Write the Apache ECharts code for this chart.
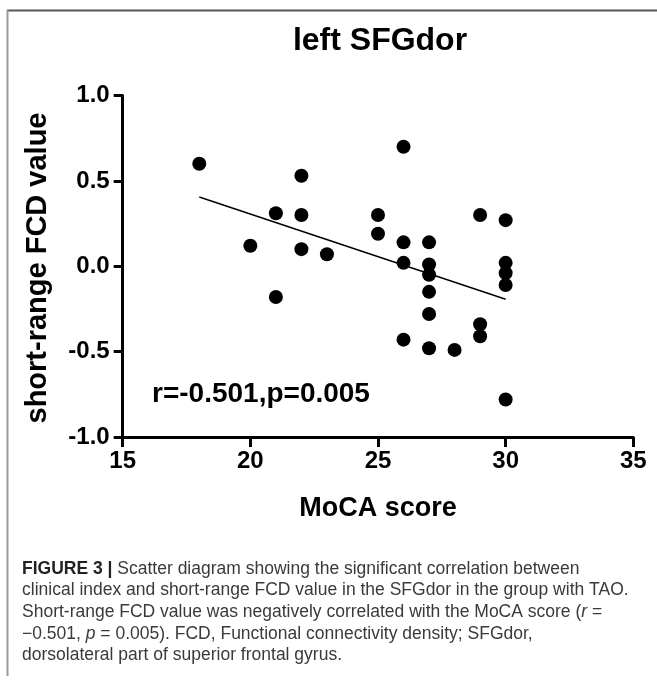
<!DOCTYPE html>
<html>
<head>
<meta charset="utf-8">
<script src="https://cdn.jsdelivr.net/npm/echarts@6/dist/echarts.min.js"></script>
<style>
html,body{margin:0;padding:0;background:#fff;}
#chart{width:657px;height:681px;}
</style>
</head>
<body>
<div id="chart"></div>
<script>
// ---- data ----
const chartTitle = 'left SFGdor';
const xAxisTitle = 'MoCA score';
const yAxisTitle = 'short-range FCD value';
const statText = 'r=-0.501,p=0.005';
const mocaScore = [18, 22, 21, 22, 20, 22, 23, 21, 26, 25, 25, 29, 30, 26, 26, 27, 27, 27, 27, 27, 30, 30, 30, 29, 29, 26, 27, 28, 30];
const fcdValue  = [0.60, 0.53, 0.31, 0.30, 0.12, 0.10, 0.07, -0.18, 0.70, 0.30, 0.19, 0.30, 0.27, 0.14, 0.02, 0.14, 0.01, -0.05, -0.15, -0.28, 0.02, -0.04, -0.11, -0.34, -0.41, -0.43, -0.48, -0.49, -0.78];
const xTicks = [15, 20, 25, 30, 35];
const yTicks = [-1.0, -0.5, 0.0, 0.5, 1.0];
const captionLines = [
  '{b|FIGURE 3 |} Scatter diagram showing the significant correlation between',
  'clinical index and short-range FCD value in the SFGdor in the group with TAO.',
  'Short-range FCD value was negatively correlated with the MoCA score ({i|r} =',
  '\u22120.501, {i|p} = 0.005). FCD, Functional connectivity density; SFGdor,',
  'dorsolateral part of superior frontal gyrus.'
];

// least-squares fit computed from the data
const n = mocaScore.length;
const mx = mocaScore.reduce((a, b) => a + b, 0) / n;
const my = fcdValue.reduce((a, b) => a + b, 0) / n;
let sxy = 0, sxx = 0;
for (let i = 0; i < n; i++) { sxy += (mocaScore[i] - mx) * (fcdValue[i] - my); sxx += (mocaScore[i] - mx) ** 2; }
const slope = sxy / sxx, intercept = my - slope * mx;
const xMin = Math.min(...mocaScore), xMax = Math.max(...mocaScore);
const fitLine = [[xMin, intercept + slope * xMin], [xMax, intercept + slope * xMax]];

const FONT = '"Liberation Sans", Arial, sans-serif';
const CAPFONT = '"Liberation Sans", Arial, sans-serif';
const CAPSIZE = 17.5;

const chart = echarts.init(document.getElementById('chart'), null, {renderer: 'canvas'});

const captionGraphics = captionLines.map((t, i) => ({
  type: 'text',
  left: 22,
  top: 560 + i * 21.6,
  style: {
    text: t,
    font: CAPSIZE + 'px ' + CAPFONT,
    fill: '#3a3a3a',
    rich: {
      b: {fontWeight: 'bold', fontSize: CAPSIZE, fontFamily: CAPFONT, fill: '#222'},
      i: {fontStyle: 'italic', fontSize: CAPSIZE, fontFamily: CAPFONT, fill: '#3a3a3a'}
    }
  }
}));

chart.setOption({
  animation: false,
  backgroundColor: '#fff',
  grid: {left: 122.7, right: 23.7, top: 95.5, bottom: 244, containLabel: false},
  xAxis: {
    type: 'value', min: xTicks[0], max: xTicks[xTicks.length - 1], interval: 5,
    axisLine: {show: true, onZero: false, lineStyle: {color: '#000', width: 3}},
    axisTick: {show: true, length: 10, lineStyle: {color: '#000', width: 3}},
    axisLabel: {margin: 12, color: '#000', fontSize: 24, fontWeight: 'bold', fontFamily: FONT},
    splitLine: {show: false}
  },
  yAxis: {
    type: 'value', min: yTicks[0], max: yTicks[yTicks.length - 1], interval: 0.5,
    axisLine: {show: true, onZero: false, lineStyle: {color: '#000', width: 3}},
    axisTick: {show: true, length: 9, lineStyle: {color: '#000', width: 3}},
    axisLabel: {margin: 13, color: '#000', fontSize: 24, fontWeight: 'bold', fontFamily: FONT,
      formatter: v => v.toFixed(1)},
    splitLine: {show: false}
  },
  series: [
    {
      type: 'scatter', symbol: 'circle', symbolSize: 14,
      itemStyle: {color: '#000', opacity: 1},
      data: mocaScore.map((x, i) => [x, fcdValue[i]]),
      z: 3
    },
    {
      type: 'line', data: fitLine, symbol: 'none',
      lineStyle: {color: '#000', width: 1.5}, z: 2
    }
  ],
  graphic: [
    {type: 'line', shape: {x1: 7, y1: 10.5, x2: 657, y2: 10.5}, style: {stroke: '#555', lineWidth: 2}},
    {type: 'line', shape: {x1: 7.5, y1: 10, x2: 7.5, y2: 676}, style: {stroke: '#999', lineWidth: 2}},
    {type: 'text', x: 380, y: 41, style: {text: chartTitle, font: 'bold 32px ' + FONT, fill: '#000', align: 'center', verticalAlign: 'middle'}},
    {type: 'text', x: 38, y: 268, rotation: Math.PI / 2, style: {text: yAxisTitle, font: 'bold 29px ' + FONT, fill: '#000', align: 'center', verticalAlign: 'middle'}},
    {type: 'text', x: 378, y: 509, style: {text: xAxisTitle, font: 'bold 27px ' + FONT, fill: '#000', align: 'center', verticalAlign: 'middle'}},
    {type: 'text', x: 152, y: 394, style: {text: statText, font: 'bold 28px ' + FONT, fill: '#000', align: 'left', verticalAlign: 'middle'}}
  ].concat(captionGraphics)
});
</script>
</body>
</html>
